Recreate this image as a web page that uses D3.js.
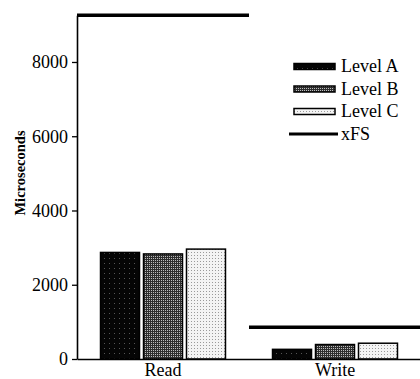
<!DOCTYPE html>
<html>
<head>
<meta charset="utf-8">
<script src="https://cdn.jsdelivr.net/npm/d3@7"></script>
<style>
  html, body { margin: 0; padding: 0; background: #fff; }
  svg { display: block; }
  text { font-family: "Liberation Serif", "Times New Roman", serif; fill: #000; }
</style>
</head>
<body>
<svg id="chart" width="420" height="379"></svg>
<script>
// Operation categories and per-level timings (microseconds)
const categories = ["Read", "Write"];
const levels = ["Level A", "Level B", "Level C"];
const levelA = [2870, 260];
const levelB = [2830, 390];
const levelC = [2960, 425];
// xFS reference time per operation
const xfs = [9260, 855];
const yTicks = [0, 2000, 4000, 6000, 8000];
const yLabel = "Microseconds";
const xfsLabel = "xFS";

const seriesValues = [levelA, levelB, levelC];

const svg = d3.select("#chart");
const defs = svg.append("defs");

// Fill textures for the three levels
const pA = defs.append("pattern").attr("id", "fillA")
  .attr("patternUnits", "userSpaceOnUse").attr("width", 5).attr("height", 5);
pA.append("rect").attr("width", 5).attr("height", 5).attr("fill", "#050505");
pA.append("rect").attr("x", 2).attr("y", 3).attr("width", 1).attr("height", 1).attr("fill", "#555");

const pB = defs.append("pattern").attr("id", "fillB")
  .attr("patternUnits", "userSpaceOnUse").attr("width", 2).attr("height", 2);
pB.append("rect").attr("width", 2).attr("height", 2).attr("fill", "#2e2e2e");
pB.append("rect").attr("width", 1).attr("height", 1).attr("fill", "#bdbdbd");

const pC = defs.append("pattern").attr("id", "fillC")
  .attr("patternUnits", "userSpaceOnUse").attr("width", 3).attr("height", 3);
pC.append("rect").attr("width", 3).attr("height", 3).attr("fill", "#f4f4f4");
pC.append("rect").attr("width", 1).attr("height", 1).attr("fill", "#9a9a9a");

const fills = ["url(#fillA)", "url(#fillB)", "url(#fillC)"];

// Scales
const y = d3.scaleLinear().domain([0, 9260]).range([359, 15.2]);
const x0 = d3.scaleBand().domain(categories).range([77, 421]).paddingInner(0).paddingOuter(0);
const x1 = d3.scaleBand().domain(levels).range([0, x0.bandwidth()])
  .paddingInner(0.093).paddingOuter(0.547);

// Bars
const groups = svg.append("g").selectAll("g")
  .data(categories)
  .join("g")
  .attr("transform", d => `translate(${x0(d)},0)`);

groups.selectAll("rect")
  .data((c, ci) => levels.map((lv, li) => ({ lv, li, v: seriesValues[li][ci] })))
  .join("rect")
  .attr("x", d => x1(d.lv))
  .attr("y", d => y(d.v))
  .attr("width", x1.bandwidth())
  .attr("height", d => y(0) - y(d.v))
  .attr("fill", d => fills[d.li])
  .attr("stroke", "#000")
  .attr("stroke-width", 1.5);

// xFS lines spanning each category band
svg.append("g").selectAll("line")
  .data(categories)
  .join("line")
  .attr("x1", d => x0(d))
  .attr("x2", d => x0(d) + x0.bandwidth())
  .attr("y1", (d, i) => y(xfs[i]))
  .attr("y2", (d, i) => y(xfs[i]))
  .attr("stroke", "#000")
  .attr("stroke-width", 3.6);

// Y axis
const yAxis = svg.append("g")
  .attr("transform", "translate(77,0)")
  .call(d3.axisLeft(y).tickValues(yTicks).tickFormat(d3.format("d"))
    .tickSize(5).tickSizeOuter(0).tickPadding(4));
yAxis.select(".domain").attr("stroke", "#000").attr("stroke-width", 1.6);
yAxis.selectAll(".tick line").attr("stroke", "#000").attr("stroke-width", 1.3);
yAxis.selectAll("text").style("font-size", "18px").attr("fill", "#000")
  .style("font-family", "'Liberation Serif', serif");

// X axis
const xAxis = svg.append("g")
  .attr("transform", "translate(0,359)")
  .call(d3.axisBottom(x0).tickSize(0).tickSizeOuter(0).tickPadding(4));
xAxis.select(".domain").attr("stroke", "#000").attr("stroke-width", 1.6);
xAxis.selectAll("text").style("font-size", "18px").attr("fill", "#000")
  .style("font-family", "'Liberation Serif', serif");

// Y axis title
svg.append("text")
  .attr("transform", "translate(24.5,173) rotate(-90)")
  .attr("text-anchor", "middle")
  .style("font-size", "14.5px")
  .style("font-weight", "bold")
  .text(yLabel);

// Legend
const legendRows = [
  { label: levels[0], fill: fills[0], y: 72 },
  { label: levels[1], fill: fills[1], y: 94.5 },
  { label: levels[2], fill: fills[2], y: 117 }
];
const legend = svg.append("g");
legend.selectAll("rect")
  .data(legendRows)
  .join("rect")
  .attr("x", 294)
  .attr("y", d => d.y - 8.5)
  .attr("width", 41)
  .attr("height", 6)
  .attr("fill", d => d.fill)
  .attr("stroke", "#000")
  .attr("stroke-width", 1.5);
legend.selectAll("text.lv")
  .data(legendRows)
  .join("text")
  .attr("class", "lv")
  .attr("x", 341)
  .attr("y", d => d.y)
  .style("font-size", "18px")
  .text(d => d.label);
legend.append("line")
  .attr("x1", 289).attr("x2", 338)
  .attr("y1", 134).attr("y2", 134)
  .attr("stroke", "#000").attr("stroke-width", 3);
legend.append("text")
  .attr("x", 341)
  .attr("y", 139.5)
  .style("font-size", "18px")
  .text(xfsLabel);
</script>
</body>
</html>
